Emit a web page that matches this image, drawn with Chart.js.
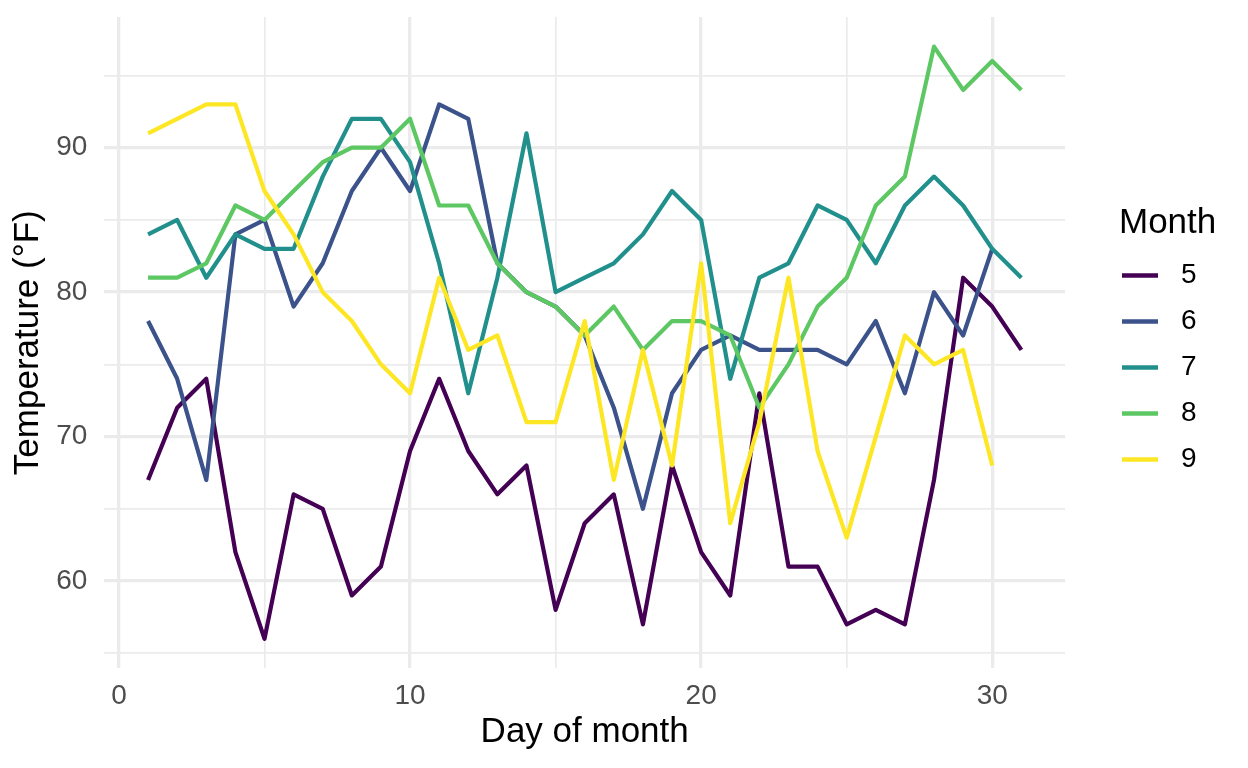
<!DOCTYPE html>
<html>
<head>
<meta charset="utf-8">
<script src="https://cdn.jsdelivr.net/npm/chart.js@4/dist/chart.umd.min.js"></script>
<style>
  html, body { margin: 0; padding: 0; background: #fff; }
  #wrap { width: 1248px; height: 768px; }
</style>
</head>
<body>
<div id="wrap"><canvas id="tempChart" width="1248" height="768"></canvas></div>
<script>
// airquality: daily max temperature by month
const days = [1, 2, 3, 4, 5, 6, 7, 8, 9, 10, 11, 12, 13, 14, 15, 16,
  17, 18, 19, 20, 21, 22, 23, 24, 25, 26, 27, 28, 29, 30, 31];
const months = ["5", "6", "7", "8", "9"];
const may = [67, 72, 74, 62, 56, 66, 65, 59, 61, 69, 74, 69, 66, 68, 58, 64,
  66, 57, 68, 62, 59, 73, 61, 61, 57, 58, 57, 67, 81, 79, 76];
const june = [78, 74, 67, 84, 85, 79, 82, 87, 90, 87, 93, 92, 82, 80, 79, 77,
  72, 65, 73, 76, 77, 76, 76, 76, 75, 78, 73, 80, 77, 83];
const july = [84, 85, 81, 84, 83, 83, 88, 92, 92, 89, 82, 73, 81, 91, 80, 81,
  82, 84, 87, 85, 74, 81, 82, 86, 85, 82, 86, 88, 86, 83, 81];
const august = [81, 81, 82, 86, 85, 87, 89, 90, 90, 92, 86, 86, 82, 80, 79, 77,
  79, 76, 78, 78, 77, 72, 75, 79, 81, 86, 88, 97, 94, 96, 94];
const september = [91, 92, 93, 93, 87, 84, 80, 78, 75, 73, 81, 76, 77, 71, 71, 78,
  67, 76, 68, 82, 64, 71, 81, 69, 63, 70, 77, 75, 76, 68];
const monthColors = ["#440154", "#3B528B", "#21908C", "#5DC863", "#FDE725"];
const xTicks = [0, 5, 10, 15, 20, 25, 30];
const yTicks = [55, 60, 65, 70, 75, 80, 85, 90, 95];

const FONT = "'Liberation Sans', Arial, Helvetica, sans-serif";
const GRID = "#EBEBEB";
const series = [may, june, july, august, september];

const datasets = series.map((temps, i) => ({
  label: months[i],
  data: temps.map((t, j) => ({ x: days[j], y: t })),
  borderColor: monthColors[i],
  backgroundColor: monthColors[i],
  borderWidth: 4.2,
  pointRadius: 0,
  tension: 0,
  borderJoinStyle: "round",
  order: months.length - i // later months drawn on top, like ggplot
}));

// ggplot-style legend drawn next to the panel
const sideLegend = {
  id: "sideLegend",
  afterDraw(chart) {
    const ctx = chart.ctx;
    const left = chart.chartArea.right;
    ctx.save();
    ctx.fillStyle = "#000";
    ctx.font = "35px " + FONT;
    ctx.textAlign = "left";
    ctx.textBaseline = "middle";
    ctx.fillText("Month", left + 54, 223);
    chart.data.datasets.forEach((ds, i) => {
      const y = 275.5 + i * 46;
      ctx.strokeStyle = ds.borderColor;
      ctx.lineWidth = 4.5;
      ctx.lineCap = "butt";
      ctx.beginPath();
      ctx.moveTo(left + 57, y);
      ctx.lineTo(left + 93, y);
      ctx.stroke();
      ctx.font = "28px " + FONT;
      ctx.fillText(ds.label, left + 116, y);
    });
    ctx.restore();
  }
};

new Chart(document.getElementById("tempChart"), {
  type: "line",
  data: { datasets: datasets },
  plugins: [sideLegend],
  options: {
    responsive: false,
    animation: false,
    layout: { padding: { top: 17, right: 183, bottom: 0, left: 0 } },
    plugins: {
      legend: { display: false },
      tooltip: { enabled: false }
    },
    scales: {
      x: {
        type: "linear",
        min: -0.5,
        max: 32.5,
        afterBuildTicks: (scale) => { scale.ticks = xTicks.map(v => ({ value: v })); },
        afterFit: (scale) => {
          scale.height = 99.6;
          scale.paddingLeft = 0;
          scale.paddingRight = 0;
        },
        border: { display: false },
        grid: {
          color: GRID,
          drawTicks: false,
          lineWidth: (c) => (c.tick && c.tick.value % 10 === 0 ? 3.3 : 1.7)
        },
        ticks: {
          autoSkip: false,
          maxRotation: 0,
          padding: 14,
          color: "#4D4D4D",
          font: { family: FONT, size: 28, lineHeight: 1 },
          callback: (v) => (v % 10 === 0 ? String(v) : "")
        },
        title: {
          display: true,
          text: "Day of month",
          color: "#000",
          font: { family: FONT, size: 35, lineHeight: 1 },
          padding: { top: 0, bottom: 18 }
        }
      },
      y: {
        type: "linear",
        min: 53.95,
        max: 99.05,
        afterBuildTicks: (scale) => { scale.ticks = yTicks.map(v => ({ value: v })); },
        afterFit: (scale) => {
          scale.width = 104.4;
          scale.paddingTop = 0;
          scale.paddingBottom = 0;
        },
        border: { display: false },
        grid: {
          color: GRID,
          drawTicks: false,
          lineWidth: (c) => (c.tick && c.tick.value % 10 === 0 ? 3.3 : 1.7)
        },
        ticks: {
          autoSkip: false,
          padding: 17,
          color: "#4D4D4D",
          font: { family: FONT, size: 28, lineHeight: 1 },
          callback: (v) => (v % 10 === 0 ? String(v) : "")
        },
        title: {
          display: true,
          text: "Temperature (°F)",
          color: "#000",
          font: { family: FONT, size: 35, lineHeight: 1 },
          padding: { top: 10.5, bottom: 0 }
        }
      }
    }
  }
});
</script>
</body>
</html>
